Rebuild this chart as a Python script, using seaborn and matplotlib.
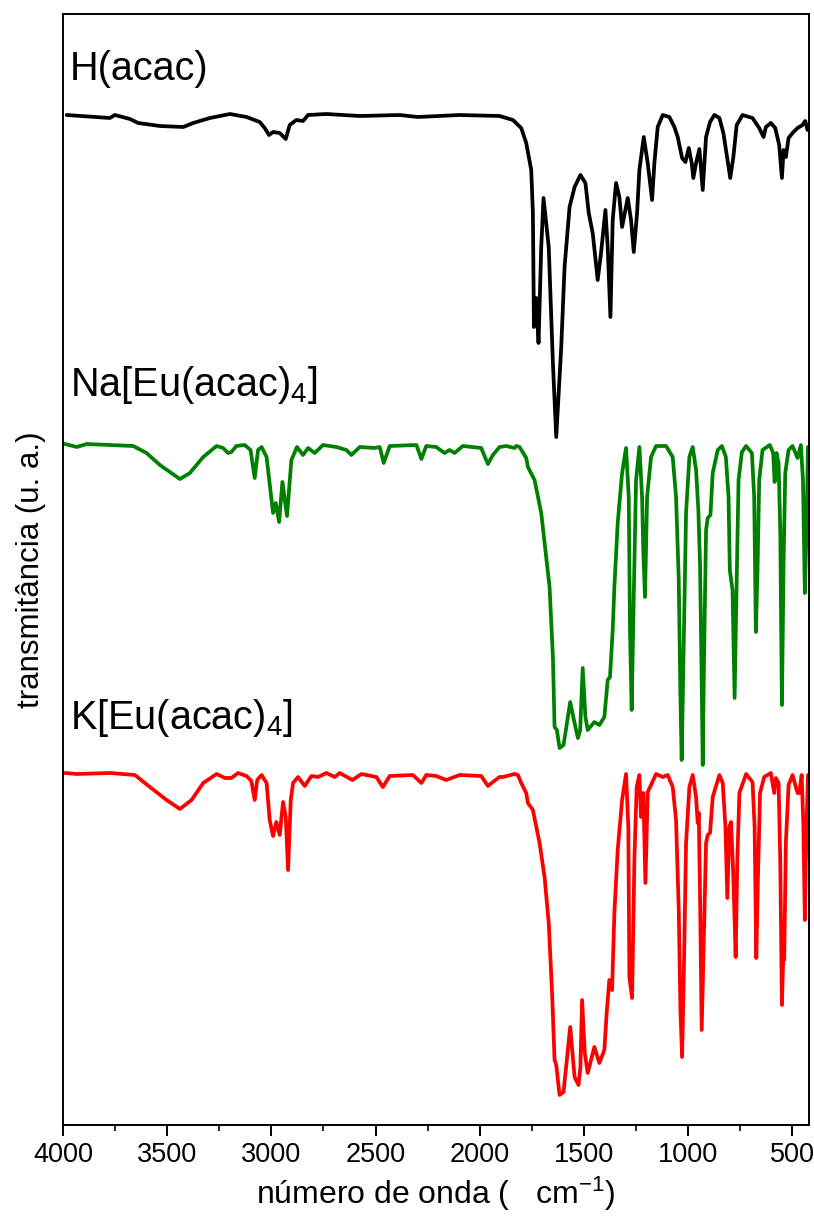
import matplotlib
matplotlib.use("Agg")
import matplotlib.pyplot as plt
from matplotlib.ticker import MultipleLocator, NullLocator
import seaborn as sns
import pandas as pd

# FTIR spectra (transmittance, arbitrary units) of the ligand and the two Eu(III) complexes
wn_hacac = [3982, 3775, 3751, 3679, 3639, 3535, 3423, 3375, 3295, 3199, 3119, 3056, 3032, 3011,
            2992, 2960, 2931, 2912, 2880, 2848, 2824, 2736, 2576, 2384, 2297, 2097, 1905, 1841,
            1801, 1777, 1753, 1745, 1740, 1729, 1718, 1705, 1694, 1669, 1649, 1633, 1609, 1593,
            1569, 1545, 1517, 1493, 1477, 1458, 1434, 1418, 1397, 1386, 1373, 1362, 1346, 1330,
            1317, 1290, 1274, 1261, 1245, 1234, 1213, 1194, 1173, 1162, 1146, 1122, 1090, 1066,
            1050, 1029, 1013, 997, 983, 975, 962, 946, 930, 914, 895, 874, 850, 831, 811, 798,
            783, 767, 739, 691, 659, 638, 627, 603, 582, 563, 550, 542, 531, 518, 499, 475, 451,
            438, 427]
t_hacac = [350, 347, 350, 346, 342, 339, 338, 342, 347, 351, 348, 343, 337, 330,
           333, 332, 326, 340, 345, 344, 350, 351, 349, 350, 348, 350, 349, 345,
           337, 322, 295, 252, 138, 167, 122, 218, 267, 218, 102, 28, 118, 198,
           258, 278, 290, 282, 252, 232, 185, 212, 255, 218, 148, 245, 282, 268,
           238, 267, 245, 213, 252, 295, 328, 302, 265, 302, 338, 350, 348, 338,
           328, 307, 303, 317, 302, 287, 302, 316, 275, 328, 343, 350, 347, 332, 305, 287,
           308, 340, 350, 347, 337, 328, 338, 342, 337, 320, 287, 315, 308, 327, 332, 337, 340,
           344, 335]

wn_na = [3990, 3934, 3886, 3775, 3663, 3599, 3535, 3439, 3391, 3327, 3263, 3232, 3208, 3192,
         3168, 3128, 3100, 3080, 3064, 3047, 3023, 2992, 2979, 2963, 2947, 2925, 2904, 2877,
         2848, 2824, 2792, 2752, 2688, 2640, 2616, 2576, 2504, 2480, 2461, 2432, 2304, 2280,
         2257, 2209, 2169, 2145, 2121, 2081, 1993, 1961, 1937, 1905, 1873, 1833, 1825, 1809,
         1777, 1769, 1737, 1705, 1681, 1665, 1649, 1641, 1630, 1617, 1598, 1566, 1545, 1529,
         1518, 1506, 1493, 1482, 1450, 1426, 1402, 1386, 1375, 1362, 1354, 1338, 1317, 1298,
         1285, 1279, 1271, 1261, 1250, 1234, 1221, 1215, 1207, 1197, 1178, 1154, 1106, 1074,
         1058, 1045, 1037, 1031, 1023, 1010, 994, 978, 962, 951, 943, 935, 930, 924, 914, 906,
         893, 882, 858, 838, 819, 806, 800, 787, 777, 767, 758, 742, 722, 694, 683, 675, 667,
         659, 643, 608, 592, 585, 576, 566, 558, 550, 542, 534, 518, 499, 475, 459, 449, 440,
         432, 425]
t_na = [351, 348, 351, 350, 349, 342, 330, 316, 322, 338, 349, 347, 342, 343,
        349, 350, 345, 317, 345, 348, 338, 282, 292, 273, 313, 279, 335, 348,
        340, 347, 342, 350, 348, 345, 340, 348, 347, 348, 332, 349, 350, 336,
        349, 348, 342, 345, 342, 349, 347, 331, 340, 348, 349, 347, 349, 348,
        337, 328, 315, 282, 238, 208, 138, 68, 65, 47, 50, 93, 72, 57,
        65, 127, 78, 65, 73, 70, 78, 115, 118, 165, 208, 272, 322, 347,
        298, 165, 85, 198, 315, 348, 298, 242, 198, 298, 338, 349, 349, 338,
        298, 215, 98, 35, 132, 282, 338, 348, 325, 285, 232, 115, 30, 132, 265, 277,
        280, 322, 345, 349, 338, 298, 225, 205, 97, 215, 315, 343, 349, 342, 298, 163, 225,
        315, 345, 350, 342, 313, 342, 332, 265, 90, 232, 322, 345, 349, 337, 350, 315, 202,
        265, 348]

wn_k = [3990, 3934, 3775, 3655, 3583, 3503, 3439, 3383, 3327, 3263, 3223, 3192, 3160, 3119,
        3096, 3080, 3068, 3047, 3023, 3008, 2992, 2976, 2960, 2944, 2931, 2920, 2907, 2896,
        2872, 2840, 2808, 2776, 2736, 2696, 2672, 2611, 2568, 2496, 2465, 2432, 2321, 2280,
        2257, 2209, 2161, 2097, 1993, 1961, 1937, 1905, 1889, 1833, 1817, 1801, 1777, 1769,
        1745, 1713, 1689, 1669, 1653, 1641, 1633, 1617, 1598, 1566, 1545, 1526, 1517, 1509,
        1496, 1482, 1450, 1426, 1402, 1391, 1378, 1365, 1354, 1338, 1317, 1298, 1287, 1282,
        1269, 1258, 1247, 1234, 1226, 1215, 1205, 1194, 1178, 1154, 1122, 1098, 1074, 1058,
        1045, 1037, 1029, 1021, 1010, 994, 978, 962, 954, 949, 943, 935, 927, 914, 906, 895,
        882, 850, 834, 821, 812, 802, 794, 783, 772, 764, 754, 722, 691, 681, 673, 665, 655,
        635, 603, 587, 579, 566, 558, 550, 544, 539, 531, 518, 499, 475, 467, 455, 447, 440,
        432, 425]
t_k = [352, 351, 352, 350, 338, 325, 316, 325, 342, 351, 347, 347, 352, 349,
       344, 325, 345, 350, 342, 305, 289, 303, 290, 323, 308, 255, 325, 342,
       348, 339, 349, 348, 352, 348, 352, 345, 351, 348, 338, 349, 350, 342,
       350, 349, 345, 350, 349, 339, 343, 348, 348, 351, 350, 342, 332, 322,
       315, 282, 248, 202, 132, 65, 60, 30, 33, 98, 48, 40, 58, 125,
       72, 52, 78, 62, 75, 112, 145, 135, 212, 275, 325, 351, 298, 148,
       127, 265, 338, 350, 308, 332, 242, 333, 340, 351, 348, 350, 338, 305,
       215, 115, 68, 148, 282, 338, 350, 328, 302, 312, 232, 95, 165, 282, 290, 292,
       328, 350, 342, 298, 227, 298, 303, 248, 168, 265, 332, 351, 343, 298, 167, 248, 332,
       348, 352, 332, 347, 342, 265, 120, 165, 165, 282, 340, 350, 332, 332, 350, 298, 205,
       298, 350]

labels = ["H(acac)", "Na[Eu(acac)$_4$]", "K[Eu(acac)$_4$]"]
colors = ["black", "#008000", "#ff0000"]
offsets = [660, 330, 0]

frames = []
for name, wn, t, off in zip(labels, [wn_hacac, wn_na, wn_k], [t_hacac, t_na, t_k], offsets):
    frames.append(pd.DataFrame({"wn": wn, "T": [v + off for v in t], "sample": name}))
df = pd.concat(frames, ignore_index=True)

sns.set_theme(style="ticks")
plt.rcParams["font.family"] = ["Liberation Sans", "DejaVu Sans"]
plt.rcParams["mathtext.fontset"] = "custom"
plt.rcParams["mathtext.rm"] = "Liberation Sans"
plt.rcParams["mathtext.it"] = "Liberation Sans:italic"
plt.rcParams["mathtext.bf"] = "Liberation Sans:bold"
plt.rcParams["text.color"] = "black"
plt.rcParams["axes.labelcolor"] = "black"
plt.rcParams["xtick.color"] = "black"
plt.rcParams["xtick.labelcolor"] = "black"

fig = plt.figure(figsize=(8.14, 12.22), dpi=100)
ax = fig.add_axes([63 / 814, 97 / 1222, 746 / 814, 1111 / 1222])

sns.lineplot(data=df, x="wn", y="T", hue="sample", palette=dict(zip(labels, colors)),
             estimator=None, sort=True, linewidth=2.7, legend=False, ax=ax)
for line in ax.get_lines():
    line.set_solid_joinstyle("round")
    line.set_solid_capstyle("round")

ax.set_xlim(4000, 420)
ax.set_ylim(0, 1111)
ax.xaxis.set_major_locator(MultipleLocator(500))
ax.xaxis.set_minor_locator(MultipleLocator(250))
ax.yaxis.set_major_locator(NullLocator())
ax.yaxis.set_minor_locator(NullLocator())
ax.tick_params(axis="x", which="major", direction="out", length=8, width=1.4,
               labelsize=19.5, pad=4, colors="black")
ax.tick_params(axis="x", which="minor", direction="out", length=4, width=1.2, colors="black")
for sp in ax.spines.values():
    sp.set_visible(True)
    sp.set_linewidth(1.4)
    sp.set_color("black")

ax.set_xlabel("número de onda (   cm$^{-1}$)", fontsize=23, labelpad=5, color="black")
ax.set_ylabel("transmitância (u. a.)", fontsize=22.5, labelpad=12, color="black")

for name, ytxt in zip(labels, [1045, 729, 396]):
    ax.text(3966, ytxt, name, fontsize=28.5, ha="left", va="baseline", color="black")

fig.savefig("out.png", dpi=100)
